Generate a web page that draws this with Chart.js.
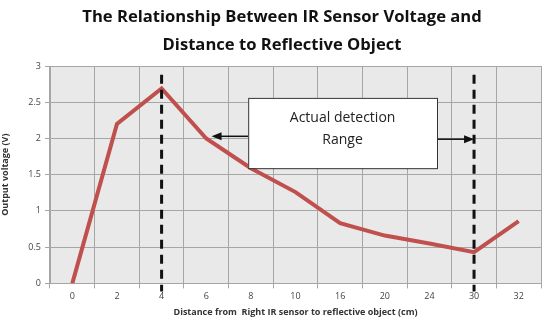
<!DOCTYPE html>
<html>
<head>
<meta charset="utf-8">
<script src="https://cdn.jsdelivr.net/npm/chart.js@4.4.1/dist/chart.umd.min.js"></script>
<style>
  html, body { margin: 0; padding: 0; background: #fff; }
  #wrap { width: 550px; height: 330px; }
</style>
</head>
<body>
<div id="wrap"><canvas id="irChart"></canvas></div>
<script>
const distances = ['0', '2', '4', '6', '8', '10', '16', '20', '24', '30', '32'];
const voltages = [0, 2.2, 2.69, 2.0, 1.59, 1.26, 0.83, 0.66, 0.55, 0.43, 0.86];
const yTicks = [0, 0.5, 1, 1.5, 2, 2.5, 3];
const rangeEdges = ['4', '30'];
const rangeLabel = ['Actual detection', 'Range'];
const titleLines = ['The Relationship Between IR Sensor Voltage and', 'Distance to Reflective Object'];

// two-line title, drawn by hand so it sits where the original does
const titlePlugin = {
  id: 'titleText',
  afterDraw(chart) {
    const { ctx } = chart;
    ctx.save();
    ctx.fillStyle = '#111';
    ctx.font = 'bold 16.6px "Open Sans", sans-serif';
    ctx.textAlign = 'center';
    ctx.textBaseline = 'middle';
    ctx.fillText(titleLines[0], 282, 17);
    ctx.fillText(titleLines[1], 282, 45);
    ctx.restore();
  }
};

// dashed range markers + the callout box with arrows
const rangePlugin = {
  id: 'rangeMarks',
  afterDatasetsDraw(chart) {
    const { ctx, scales: { x, y } } = chart;
    const i0 = distances.indexOf(rangeEdges[0]);
    const i1 = distances.indexOf(rangeEdges[1]);
    ctx.save();
    ctx.strokeStyle = '#111';
    ctx.lineWidth = 3;
    ctx.setLineDash([9, 6]);
    [i0, i1].forEach(i => {
      const px = x.getPixelForValue(i);
      ctx.beginPath();
      ctx.moveTo(px, y.getPixelForValue(2.88));
      ctx.lineTo(px, y.bottom + 8);
      ctx.stroke();
    });
    ctx.setLineDash([]);

    const bl = x.getPixelForValue(3.94), br = x.getPixelForValue(8.17);
    const bt = y.getPixelForValue(2.56), bb = y.getPixelForValue(1.59);

    ctx.lineWidth = 1.5;
    ctx.fillStyle = '#111';
    const arrow = (fromX, toX, py) => {
      const dir = Math.sign(toX - fromX);
      ctx.beginPath();
      ctx.moveTo(fromX, py);
      ctx.lineTo(toX - dir * 8, py);
      ctx.stroke();
      ctx.beginPath();
      ctx.moveTo(toX, py);
      ctx.lineTo(toX - dir * 10, py - 4);
      ctx.lineTo(toX - dir * 10, py + 4);
      ctx.closePath();
      ctx.fill();
    };
    arrow(bl, x.getPixelForValue(3.12), y.getPixelForValue(2.03));
    arrow(br, x.getPixelForValue(i1), y.getPixelForValue(1.99));

    ctx.fillStyle = '#fff';
    ctx.fillRect(bl, bt, br - bl, bb - bt);
    ctx.strokeStyle = '#333';
    ctx.lineWidth = 1;
    ctx.strokeRect(bl + 0.5, bt + 0.5, br - bl, bb - bt);

    ctx.fillStyle = '#222';
    ctx.font = '14px "Open Sans", sans-serif';
    ctx.textAlign = 'center';
    ctx.textBaseline = 'middle';
    const cx = (bl + br) / 2;
    ctx.fillText(rangeLabel[0], cx, bt + 20);
    ctx.fillText(rangeLabel[1], cx, bt + 42);
    ctx.restore();
  }
};

const plotBg = {
  id: 'plotBg',
  beforeDraw(chart) {
    const { ctx, chartArea: a } = chart;
    ctx.save();
    ctx.fillStyle = '#e9e9e9';
    ctx.fillRect(a.left, a.top, a.right - a.left, a.bottom - a.top);
    ctx.restore();
  }
};

new Chart(document.getElementById('irChart'), {
  type: 'line',
  data: {
    labels: distances,
    datasets: [{
      data: voltages,
      borderColor: '#c0504d',
      borderWidth: 4,
      pointRadius: 0,
      tension: 0,
      fill: false
    }]
  },
  options: {
    responsive: true,
    maintainAspectRatio: false,
    animation: false,
    layout: { padding: { left: 0, right: 9, top: 66, bottom: 12 } },
    plugins: {
      legend: { display: false },
      tooltip: { enabled: false },
      title: { display: false }
    },
    scales: {
      x: {
        offset: true,
        grid: { offset: true, color: '#a6a6a6', tickLength: 5 },
        border: { color: '#a6a6a6' },
        ticks: { color: '#444', font: { family: '"Open Sans", sans-serif', size: 9 }, padding: 3 },
        title: {
          display: true,
          text: 'Distance from  Right IR sensor to reflective object (cm)',
          color: '#333',
          font: { family: '"Open Sans", sans-serif', size: 9, weight: 'bold' },
          padding: { top: 2, bottom: 0 }
        }
      },
      y: {
        min: 0,
        max: 3,
        afterBuildTicks(scale) { scale.ticks = yTicks.map(v => ({ value: v })); },
        afterFit(scale) { scale.width = 50; },
        grid: { color: '#a6a6a6', tickLength: 5 },
        border: { color: '#a6a6a6' },
        ticks: {
          color: '#444',
          font: { family: '"Open Sans", sans-serif', size: 9 },
          padding: 4,
          callback: v => String(v)
        },
        title: {
          display: true,
          text: 'Output voltage (V)',
          color: '#333',
          font: { family: '"Open Sans", sans-serif', size: 9, weight: 'bold' },
          padding: { top: 0, bottom: 4 }
        }
      }
    }
  },
  plugins: [plotBg, rangePlugin, titlePlugin]
});
</script>
</body>
</html>
